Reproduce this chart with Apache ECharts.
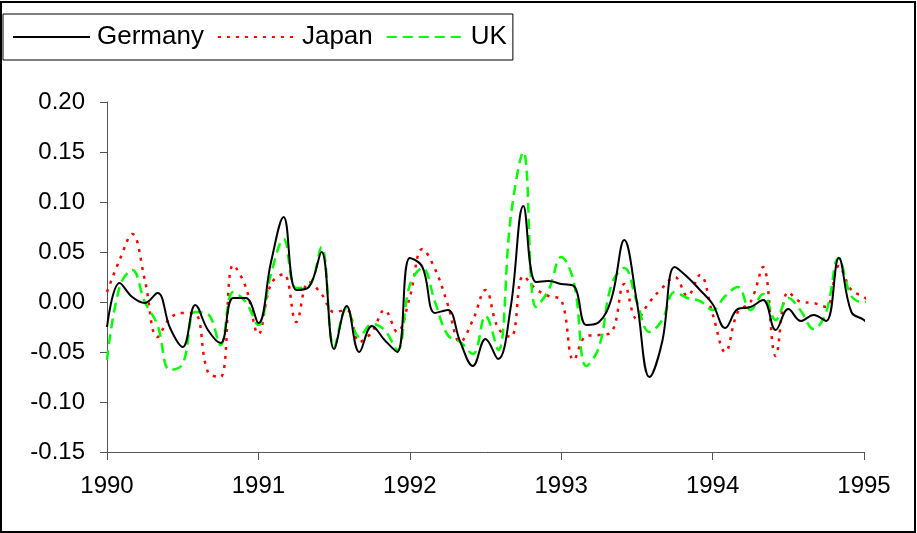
<!DOCTYPE html>
<html>
<head>
<meta charset="utf-8" />
<title>Germany Japan UK</title>
<script src="https://cdn.jsdelivr.net/npm/echarts@6/dist/echarts.min.js"></script>
<style>
  html, body { margin: 0; padding: 0; background: #fff; }
  #main { width: 917px; height: 533px; }
</style>
</head>
<body>
<div id="main"></div>
<script type="text/javascript">
// monthly points, Jan 1990 .. Jan 1995, plus one just past the end
var germany = [
  -0.025, 0.019, 0.005, -0.001, 0.009, -0.026, -0.045, -0.003, -0.028, -0.041, 0.004, 0.004,
  -0.021, 0.040, 0.085, 0.012, 0.015, 0.050, -0.047, -0.004, -0.050, -0.024, -0.038, -0.050,
  0.044, 0.035, -0.011, -0.008, -0.040, -0.064, -0.037, -0.057, -0.005, 0.096, 0.020, 0.021,
  0.018, 0.016, -0.023, -0.020, 0.004, 0.062, 0.000, -0.075, -0.040, 0.035, 0.025, 0.012,
  -0.002, -0.026, -0.007, -0.005, 0.002, -0.028, -0.007, -0.019, -0.013, -0.019, 0.044, -0.010,
  -0.018, -0.027
];
var japan = [
  0.010, 0.042, 0.068, 0.022, -0.035, -0.016, -0.011, -0.012, -0.070, -0.075, 0.037, 0.015,
  -0.032, 0.018, 0.028, -0.020, 0.020, 0.008, -0.010, -0.008, -0.040, -0.030, -0.008, -0.030,
  0.005, 0.053, 0.033, -0.002, -0.040, -0.018, 0.012, -0.026, -0.035, 0.026, 0.013, 0.006,
  0.002, -0.058, -0.034, -0.033, -0.030, 0.018, -0.017, 0.000, 0.014, 0.025, 0.006, 0.027,
  -0.012, -0.050, -0.010, 0.000, 0.035, -0.054, 0.010, 0.000, -0.001, -0.005, 0.036, 0.012,
  0.005, -0.002
];
var uk = [
  -0.058, 0.015, 0.032, 0.000, -0.023, -0.068, -0.062, -0.010, -0.012, -0.043, 0.010, 0.000,
  -0.023, 0.028, 0.063, 0.014, 0.016, 0.055, -0.045, -0.006, -0.035, -0.022, -0.028, -0.048,
  0.017, 0.034, 0.000, -0.033, -0.040, -0.052, -0.014, -0.048, 0.085, 0.150, -0.005, 0.012,
  0.045, 0.020, -0.064, -0.045, 0.018, 0.034, 0.000, -0.030, -0.018, 0.010, 0.004, 0.001,
  -0.008, 0.006, 0.015, -0.008, 0.008, -0.018, 0.004, -0.009, -0.027, -0.010, 0.044, 0.006,
  0.000, 0.000
];
var seriesNames = ['Germany', 'Japan', 'UK'];
var yearTicks = [1990, 1991, 1992, 1993, 1994, 1995];

var times = [];
for (var i = 0; i <= 60; i++) times.push(1990 + i / 12);
times.push(1995.05);

function pairs(vals) {
  return vals.map(function (v, i) { return [times[i], v]; });
}

var font = 'Liberation Sans, Arial, sans-serif';
var myChart = echarts.init(document.getElementById('main'));

option = {
  animation: false,
  backgroundColor: '#fff',
  graphic: [{
    type: 'rect',
    shape: { x: 1, y: 2, width: 914, height: 530 },
    style: { fill: null, stroke: '#000', lineWidth: 2 },
    silent: true
  }],
  legend: {
    left: 3,
    top: 14,
    orient: 'horizontal',
    data: seriesNames,
    itemWidth: 77,
    itemHeight: 14,
    itemGap: 13,
    padding: [10, 6, 10, 9],
    borderColor: '#000',
    borderWidth: 1,
    itemStyle: { opacity: 0 },
    textStyle: { fontFamily: font, fontSize: 26, color: '#000', padding: [0, 0, 0, 2] }
  },
  grid: { left: 107, right: 53, top: 102, bottom: 81 },
  xAxis: {
    type: 'value',
    min: 1990,
    max: 1995,
    interval: 1,
    axisLine: { onZero: false, lineStyle: { color: '#555', width: 1 } },
    axisTick: { show: true, length: 8, lineStyle: { color: '#555' } },
    splitLine: { show: false },
    axisLabel: {
      margin: 22,
      fontFamily: font, fontSize: 24, color: '#000',
      formatter: function (v) { return yearTicks.indexOf(Math.round(v)) >= 0 ? String(Math.round(v)) : ''; }
    }
  },
  yAxis: {
    type: 'value',
    min: -0.15,
    max: 0.2,
    interval: 0.05,
    axisLine: { show: true, lineStyle: { color: '#555', width: 1 } },
    axisTick: { show: true, length: 7, lineStyle: { color: '#555' } },
    splitLine: { show: false },
    axisLabel: {
      margin: 22,
      fontFamily: font, fontSize: 24, color: '#000',
      formatter: function (v) { return v.toFixed(2); }
    }
  },
  series: [
    {
      name: 'Germany', type: 'line', data: pairs(germany),
      symbol: 'none', smooth: 0.4, clip: false,
      lineStyle: { color: '#000', width: 2 }, itemStyle: { color: '#000' }, z: 3
    },
    {
      name: 'Japan', type: 'line', data: pairs(japan),
      symbol: 'none', smooth: 0.4, clip: false,
      lineStyle: { color: '#ff0000', width: 2.5, type: [3, 6] }, itemStyle: { color: '#ff0000' }, z: 2
    },
    {
      name: 'UK', type: 'line', data: pairs(uk),
      symbol: 'none', smooth: 0.4, clip: false,
      lineStyle: { color: '#00ff00', width: 2.5, type: [10, 6] }, itemStyle: { color: '#00ff00' }, z: 2
    }
  ]
};

myChart.setOption(option);
</script>
</body>
</html>
